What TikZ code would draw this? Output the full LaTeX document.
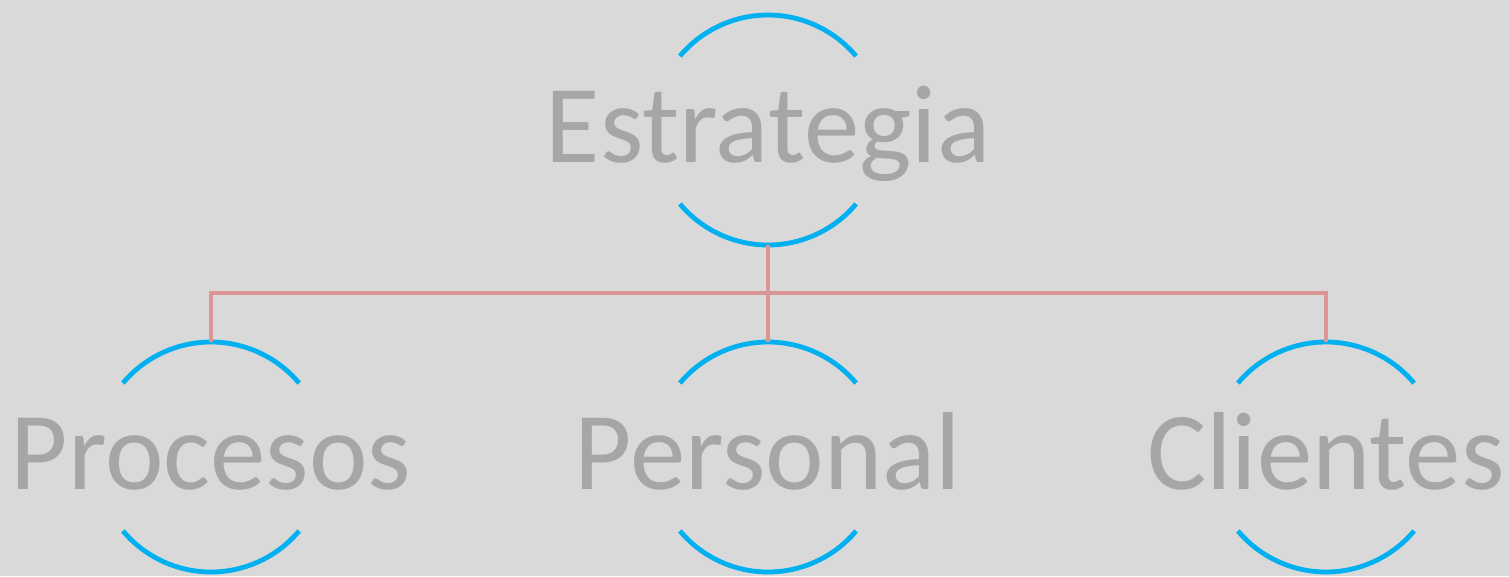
\documentclass[tikz,border=0pt]{standalone}
\usepackage{fontspec}
\setmainfont{Carlito}
\usepackage{xcolor}
\definecolor{bggray}{HTML}{D9D9D9}
\definecolor{txtgray}{HTML}{A6A6A6}
\definecolor{arcblue}{HTML}{00B0F0}
\definecolor{linkpink}{HTML}{D99694}
\tikzset{
  lbl/.style={anchor=base, inner sep=0pt, text=txtgray, font=\fontsize{111}{111}\selectfont},
  arcline/.style={arcblue, line width=4.8pt},
  conn/.style={linkpink, line width=4.6pt}
}

\begin{document}
\begin{tikzpicture}[x=1pt, y=-1pt]
  \fill[bggray] (0,0) rectangle (1509,576);
  \useasboundingbox (0,0) rectangle (1509,576);
  % nodes with their two arcs
  \foreach \name/\txt/\x/\y in {est/Estrategia/768/130, pro/Procesos/211/457,
      per/Personal/768/457, cli/Clientes/1326/457} {
    \node[lbl] (\name) at (\x,\y+32) {\txt};
    \coordinate (\name-top) at (\x,\y-115);
    \coordinate (\name-bot) at (\x,\y+115);
    \draw[arcline] (\x,\y) ++(220:115) arc (220:320:115);
    \draw[arcline] (\x,\y) ++(40:115) arc (40:140:115);
  }
  % connectors
  \coordinate (fork) at (768,293);
  \draw[conn] (est-bot) -- (fork);
  \draw[conn] (fork) -| (pro-top);
  \draw[conn] (fork) -- (per-top);
  \draw[conn] (fork) -| (cli-top);
\end{tikzpicture}
\end{document}
